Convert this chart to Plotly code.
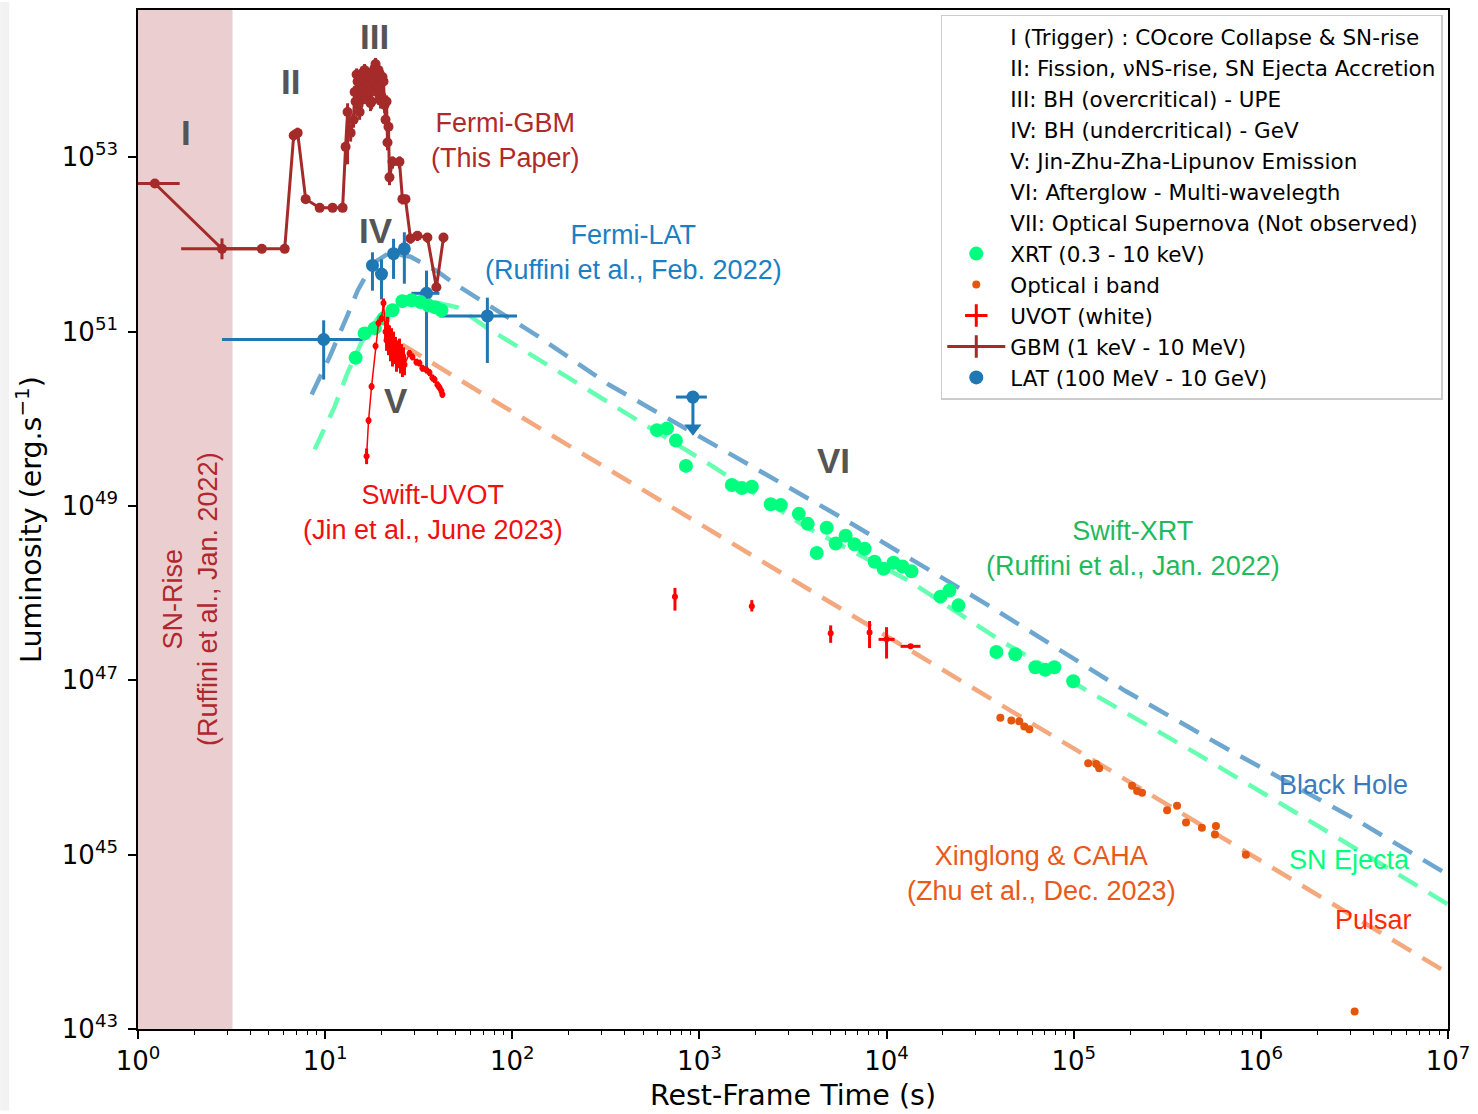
import numpy as np
import plotly.graph_objects as go

# ---------------- data (time in s, luminosity as log10 erg/s) ----------------
SN_RISE_END = 3.2

GBM_T = [1.23, 2.81, 4.59, 6.08, 6.79, 7.13, 7.87, 9.35, 10.96, 12.40, 12.86, 13.18, 13.68,
         14.19, 14.37, 14.55, 14.73, 14.91, 15.10, 15.28, 15.47, 15.66, 15.85, 16.04, 16.24, 16.44,
         16.65, 16.86, 17.06, 17.27, 17.48, 17.70, 17.92, 18.14, 18.36, 18.59, 18.82, 19.05, 19.28,
         19.53, 19.77, 20.01, 20.26, 20.51, 20.77, 21.03, 21.29, 21.54, 21.80, 22.07,
         22.91, 24.96, 25.88, 26.87, 28.58, 31.13, 35.2, 39.3, 42.9]
GBM_LOGL = [52.70, 51.95, 51.95, 51.95, 53.25, 53.28, 52.52, 52.42, 52.42, 52.42, 53.12, 53.52, 53.28,
            53.43, 53.75, 53.64, 53.95, 53.87, 53.60, 53.52, 53.90, 53.96, 53.70, 53.70, 54.00, 53.98,
            53.70, 53.75, 53.95, 53.92, 53.62, 53.64, 53.98, 53.87, 54.02, 54.07, 53.75, 53.81, 54.00,
            53.96, 53.65, 53.70, 53.92, 53.87, 53.60, 53.43, 53.64, 53.17, 53.35, 52.77,
            52.95, 52.95, 52.52, 52.52, 52.07, 52.10, 52.08, 51.51, 52.08]
GBM_ERR_UP = ([0.04, 0.12, 0.04, 0.04, 0.06, 0.06, 0.04, 0.04, 0.04, 0.04, 0.05, 0.10, 0.08]
              + [0.07] * 37
              + [0.06, 0.06, 0.05, 0.05, 0.05, 0.05, 0.05, 0.05, 0.05])
GBM_ERR_DN = ([0.04, 0.12, 0.04, 0.04, 0.06, 0.06, 0.04, 0.04, 0.04, 0.04, 0.20, 0.60, 0.10]
              + [0.09] * 37
              + [0.08, 0.08, 0.06, 0.06, 0.06, 0.06, 0.06, 0.06, 0.06])
GBM_T_LO = [0.75, 1.70] + GBM_T[2:]
GBM_T_HI = [1.67, 4.60] + GBM_T[2:]

LAT_T = [9.82, 17.9, 20.0, 23.2, 26.5, 34.8, 73.6]
LAT_LOGL = [50.91, 51.76, 51.66, 51.895, 51.95, 51.44, 51.18]
LAT_T_LO = [2.81, 17.9, 20.0, 23.2, 26.5, 28.9, 40.8]
LAT_T_HI = [15.85, 17.9, 20.0, 23.2, 26.5, 40.8, 106.0]
LAT_ERR_UP = [0.22, 0.15, 0.17, 0.17, 0.19, 0.26, 0.21]
LAT_ERR_DN = [0.46, 0.29, 0.29, 0.29, 0.40, 0.88, 0.54]

LAT_UL_T = [923]
LAT_UL_LOGL = [50.25]
LAT_UL_T_LO = [749]
LAT_UL_T_HI = [1096]
LAT_UL_ARROW = [0.43]

XRT_T = [14.55, 16.25, 18.4, 20.51, 22.91, 25.88, 28.93, 32.3, 35.7, 38.8, 41.8,
         593, 671, 749, 847, 1490, 1686, 1905, 2404, 2722, 3397, 3791, 4786, 4236, 5346, 6043,
         6745, 7638, 8630, 9638, 10890, 12170, 13590, 19410, 21680, 24220, 38620, 48720, 62370,
         70530, 78780, 99400]
XRT_LOGL = [50.70, 50.98, 51.04, 51.15, 51.245, 51.35, 51.36, 51.34, 51.30, 51.28, 51.245,
            49.87, 49.89, 49.75, 49.46, 49.24, 49.205, 49.22, 49.02, 49.01, 48.91, 48.795, 48.75,
            48.46, 48.57, 48.66, 48.56, 48.51, 48.36, 48.28, 48.35, 48.305, 48.25, 47.96, 48.03,
            47.86, 47.325, 47.30, 47.15, 47.12, 47.15, 46.99]

OPT_T = [40550, 46420, 51170, 54450, 57940, 119500, 131800, 136800, 205000, 218200, 231800,
         315500, 356600, 398100, 484200, 568400, 575400, 831800, 3170000]
OPT_LOGL = [46.57, 46.54, 46.53, 46.47, 46.44, 46.05, 46.04, 45.99, 45.79, 45.73, 45.71,
            45.51, 45.56, 45.37, 45.31, 45.23, 45.33, 45.00, 43.20]

UVOT_T = [16.65, 17.06, 17.70, 18.59, 19.28, 20.01, 20.51,
          21.03, 21.29, 21.54, 21.80, 22.07, 22.34, 22.62, 22.91, 23.19, 23.48, 23.77, 24.06,
          24.35, 24.65, 24.96, 25.26, 25.57, 25.88, 26.22, 26.54,
          28.24, 29.28, 30.76, 31.9, 33.1, 34.8, 36.1, 37.4, 38.4, 39.8, 40.8, 41.8, 42.3]
UVOT_LOGL = [49.57, 49.98, 50.37, 50.835, 51.10, 51.15, 51.33,
             51.00, 50.90, 51.05, 50.85, 50.95, 50.78, 50.92, 50.72, 50.88, 50.75, 50.82, 50.66,
             50.78, 50.70, 50.80, 50.64, 50.74, 50.60, 50.70, 50.62,
             50.75, 50.71, 50.65, 50.64, 50.58, 50.56, 50.53, 50.47, 50.45, 50.39, 50.36, 50.32, 50.28]
UVOT_ERR = ([0.09, 0.04, 0.04, 0.04, 0.04, 0.04, 0.05]
            + [0.12] * 20
            + [0.04] * 13)

UVL_T = [740, 1905, 5027, 8111, 10000, 13430]
UVL_LOGL = [47.96, 47.85, 47.54, 47.55, 47.47, 47.39]
UVL_ERR_UP = [0.10, 0.07, 0.09, 0.13, 0.14, 0.02]
UVL_ERR_DN = [0.16, 0.06, 0.11, 0.18, 0.22, 0.02]
UVL_T_LO = [740, 1905, 5027, 8111, 9060, 11880]
UVL_T_HI = [740, 1905, 5027, 8111, 11040, 15180]

BH_T = [8.47, 10.57, 13.02, 14.91, 17.92, 22.07, 28.58, 39.8, 49.1, 72.6, 134.3, 329, 1125,
        5546, 34990, 188200, 627000, 3170000, 10000000]
BH_LOGL = [50.28, 50.71, 51.165, 51.47, 51.78, 51.905, 51.86, 51.69, 51.55, 51.325, 50.96, 50.39,
           49.73, 48.886, 47.86, 46.88, 46.24, 45.41, 44.77]

SN_T = [8.79, 11.24, 13.18, 15.66, 19.05, 23.48, 30.0, 40.8, 50.9, 73.6, 110.4, 359, 1166, 3700,
        13100, 41030, 136800, 461400, 1518000, 4935000, 10000000]
SN_LOGL = [49.65, 50.14, 50.53, 50.88, 51.15, 51.29, 51.35, 51.325, 51.28, 51.04, 50.81, 50.13,
           49.46, 48.76, 48.145, 47.45, 46.81, 46.15, 45.49, 44.83, 44.43]

PSR_T = [25.88, 85.3, 994, 39550, 461400, 10000000]
PSR_LOGL = [50.85, 50.17, 48.80, 46.74, 45.365, 43.64]

X_TICKS = [1, 10, 100, 1e3, 1e4, 1e5, 1e6, 1e7]
X_TICKTEXT = ["10<sup>0</sup>", "10<sup>1</sup>", "10<sup>2</sup>", "10<sup>3</sup>",
              "10<sup>4</sup>", "10<sup>5</sup>", "10<sup>6</sup>", "10<sup>7</sup>"]
Y_TICKS = [1e43, 1e45, 1e47, 1e49, 1e51, 1e53]
Y_TICKTEXT = ["10<sup>43</sup>", "10<sup>45</sup>", "10<sup>47</sup>", "10<sup>49</sup>",
              "10<sup>51</sup>", "10<sup>53</sup>"]

LEGEND_TEXT_ONLY = [
    "I (Trigger) : COcore Collapse & SN-rise",
    "II: Fission, νNS-rise, SN Ejecta Accretion",
    "III: BH (overcritical) - UPE",
    "IV: BH (undercritical) - GeV",
    "V: Jin-Zhu-Zha-Lipunov Emission",
    "VI: Afterglow - Multi-wavelegth",
    "VII: Optical Supernova (Not observed)",
]

# ---------------- helpers ----------------
W, H = 1478, 1114
ML, MR, MT, MB = 138, 28, 8, 82
PW, PH = W - ML - MR, H - MT - MB


def L(v):
    return 10 ** np.asarray(v, dtype=float)


def dex_err(logl, up, dn):
    y = L(logl)
    return y * (10 ** np.asarray(up) - 1), y * (1 - 10 ** (-np.asarray(dn)))


def px(x, y):
    return (x - ML) / PW, (H - MB - y) / PH


C_GBM = "#a52a2a"
C_LAT = "#1f77b4"
C_XRT = "#00ff7f"
C_OPT = "#e6550d"
C_UV = "#ff0000"

fig = go.Figure()

fig.add_shape(type="rect", xref="x", yref="paper", x0=1, x1=SN_RISE_END, y0=0, y1=1,
              fillcolor="#ebcfd0", line_width=0, layer="below")
x0s, _ = px(0, 0)
x1s, _ = px(9, 0)
fig.add_shape(type="rect", xref="paper", yref="paper", x0=x0s, x1=x1s, y0=-MB / PH, y1=1 + MT / PH,
              fillcolor="#f2f2f2", line_width=0, layer="below")

dash = "22px,13px"
fig.add_trace(go.Scatter(x=BH_T, y=L(BH_LOGL), mode="lines", showlegend=False, hoverinfo="skip",
                         line=dict(color="rgba(31,119,180,0.65)", width=4.5, dash=dash)))
fig.add_trace(go.Scatter(x=SN_T, y=L(SN_LOGL), mode="lines", showlegend=False, hoverinfo="skip",
                         line=dict(color="rgba(0,255,127,0.6)", width=4.5, dash=dash)))
fig.add_trace(go.Scatter(x=PSR_T, y=L(PSR_LOGL), mode="lines", showlegend=False, hoverinfo="skip",
                         line=dict(color="rgba(235,110,40,0.6)", width=4.5, dash=dash)))

# GBM
gu, gd = dex_err(GBM_LOGL, GBM_ERR_UP, GBM_ERR_DN)
fig.add_trace(go.Scatter(
    x=GBM_T, y=L(GBM_LOGL), mode="lines+markers", showlegend=False,
    line=dict(color=C_GBM, width=3), marker=dict(color=C_GBM, size=10),
    error_y=dict(type="data", symmetric=False, array=gu, arrayminus=gd, color=C_GBM, thickness=3, width=0),
    error_x=dict(type="data", symmetric=False,
                 array=np.array(GBM_T_HI) - np.array(GBM_T),
                 arrayminus=np.array(GBM_T) - np.array(GBM_T_LO), color=C_GBM, thickness=3, width=0)))

# LAT
lu, ld = dex_err(LAT_LOGL, LAT_ERR_UP, LAT_ERR_DN)
fig.add_trace(go.Scatter(
    x=LAT_T, y=L(LAT_LOGL), mode="markers", showlegend=False,
    marker=dict(color=C_LAT, size=13),
    error_y=dict(type="data", symmetric=False, array=lu, arrayminus=ld, color=C_LAT, thickness=3, width=0),
    error_x=dict(type="data", symmetric=False,
                 array=np.array(LAT_T_HI) - np.array(LAT_T),
                 arrayminus=np.array(LAT_T) - np.array(LAT_T_LO), color=C_LAT, thickness=3, width=0)))
uu, ud = dex_err(LAT_UL_LOGL, [0.0], LAT_UL_ARROW)
fig.add_trace(go.Scatter(
    x=LAT_UL_T, y=L(LAT_UL_LOGL), mode="markers", showlegend=False,
    marker=dict(color=C_LAT, size=13),
    error_y=dict(type="data", symmetric=False, array=uu, arrayminus=ud * 0.93, color=C_LAT, thickness=3, width=0),
    error_x=dict(type="data", symmetric=False,
                 array=np.array(LAT_UL_T_HI) - np.array(LAT_UL_T),
                 arrayminus=np.array(LAT_UL_T) - np.array(LAT_UL_T_LO), color=C_LAT, thickness=3, width=0)))
fig.add_trace(go.Scatter(
    x=LAT_UL_T, y=L(np.array(LAT_UL_LOGL) - np.array(LAT_UL_ARROW)) * 1.18, mode="markers",
    showlegend=False, marker=dict(color=C_LAT, size=15, symbol="triangle-down")))

# XRT
fig.add_trace(go.Scatter(x=XRT_T, y=L(XRT_LOGL), mode="markers", showlegend=False,
                         marker=dict(color=C_XRT, size=14)))

# UVOT
vu, vd = dex_err(UVOT_LOGL, UVOT_ERR, UVOT_ERR)
fig.add_trace(go.Scatter(
    x=UVOT_T, y=L(UVOT_LOGL), mode="lines+markers", showlegend=False,
    line=dict(color=C_UV, width=1.5), marker=dict(color=C_UV, size=6),
    error_y=dict(type="data", symmetric=False, array=vu, arrayminus=vd, color=C_UV, thickness=3, width=0)))
wu, wd = dex_err(UVL_LOGL, UVL_ERR_UP, UVL_ERR_DN)
fig.add_trace(go.Scatter(
    x=UVL_T, y=L(UVL_LOGL), mode="markers", showlegend=False,
    marker=dict(color=C_UV, size=6),
    error_y=dict(type="data", symmetric=False, array=wu, arrayminus=wd, color=C_UV, thickness=3, width=0),
    error_x=dict(type="data", symmetric=False,
                 array=np.array(UVL_T_HI) - np.array(UVL_T),
                 arrayminus=np.array(UVL_T) - np.array(UVL_T_LO), color=C_UV, thickness=3, width=0)))

# Optical
fig.add_trace(go.Scatter(x=OPT_T, y=L(OPT_LOGL), mode="markers", showlegend=False,
                         marker=dict(color=C_OPT, size=8)))

# ---------------- legend entries ----------------
for name in LEGEND_TEXT_ONLY:
    fig.add_trace(go.Scatter(x=[None], y=[None], mode="markers", name=name,
                             marker=dict(size=1, color="rgba(0,0,0,0)")))
fig.add_trace(go.Scatter(x=[None], y=[None], mode="markers", name="XRT (0.3 - 10 keV)",
                         marker=dict(size=14, color=C_XRT)))
fig.add_trace(go.Scatter(x=[None], y=[None], mode="markers", name="Optical i band",
                         marker=dict(size=8, color=C_OPT)))
fig.add_trace(go.Scatter(x=[None], y=[None], mode="markers", name="UVOT (white)",
                         marker=dict(size=22, symbol="cross-thin", line=dict(color=C_UV, width=3))))
fig.add_trace(go.Scatter(x=[None], y=[None], mode="lines+markers", name="GBM (1 keV - 10 MeV)",
                         line=dict(color=C_GBM, width=3),
                         marker=dict(size=20, symbol="cross-thin", line=dict(color=C_GBM, width=3))))
fig.add_trace(go.Scatter(x=[None], y=[None], mode="markers", name="LAT (100 MeV - 10 GeV)",
                         marker=dict(size=14, color=C_LAT)))

# ---------------- annotations ----------------
ann = []


def add_text(text, x, y, color, size, family="Liberation Sans", bold=False, angle=0):
    xp, yp = px(x, y)
    ann.append(dict(text=f"<b>{text}</b>" if bold else text, x=xp, y=yp, xref="paper", yref="paper",
                    showarrow=False, xanchor="center", yanchor="middle", align="center",
                    textangle=angle, font=dict(family=family, size=size, color=color)))


for t, x, y in [("I", 186, 131), ("II", 291, 80), ("III", 375, 35), ("IV", 376, 230),
                ("V", 396, 400), ("VI", 835, 461)]:
    add_text(t, x, y, "#555555", 35, bold=True)

add_text("Fermi-GBM<br>(This Paper)", 506, 139, "#b02a2a", 27)
add_text("Fermi-LAT<br>(Ruffini et al., Feb. 2022)", 634, 252, "#1a80c4", 27)
add_text("Swift-UVOT<br>(Jin et al., June 2023)", 433, 513, "#f01010", 27)
add_text("Swift-XRT<br>(Ruffini et al., Jan. 2022)", 1135, 549, "#1fba5c", 27)
add_text("Xinglong & CAHA<br>(Zhu et al., Dec. 2023)", 1043, 876, "#e8591a", 27)
add_text("Black Hole", 1345, 787, "#3a7abf", 27)
add_text("SN Ejecta", 1351, 862, "#00ff7f", 27)
add_text("Pulsar", 1375, 922, "#ff2a00", 27)
add_text("SN-Rise<br>(Ruffini et al., Jan. 2022)", 190, 600, "#b0282e", 27, angle=-90)

minor_vals = [m * 10 ** d for d in range(0, 7) for m in range(2, 10)]

fig.update_layout(
    width=W, height=H,
    margin=dict(l=ML, r=MR, t=MT, b=MB),
    paper_bgcolor="white", plot_bgcolor="white",
    font=dict(family="DejaVu Sans", color="black"),
    annotations=ann,
    legend=dict(x=px(942, 0)[0], y=px(0, 13)[1], xanchor="left", yanchor="top",
                bgcolor="white", bordercolor="#cccccc", borderwidth=1.5,
                font=dict(family="DejaVu Sans", size=21.5, color="black"),
                itemwidth=58, tracegroupgap=0),
    xaxis=dict(type="log", range=[0, 7], showgrid=False, zeroline=False,
               showline=True, linecolor="black", linewidth=1.5, mirror=True,
               ticks="outside", ticklen=8, tickwidth=1.5, tickcolor="black",
               tickmode="array", tickvals=X_TICKS, ticktext=X_TICKTEXT,
               tickfont=dict(family="DejaVu Sans", size=26),
               minor=dict(tickmode="array", tickvals=minor_vals, ticks="outside", ticklen=4,
                          tickwidth=1, tickcolor="black", showgrid=False),
               title=dict(text="Rest-Frame Time (s)", font=dict(family="DejaVu Sans", size=28.5),
                          standoff=10)),
    yaxis=dict(type="log", range=[43, 54.69], showgrid=False, zeroline=False,
               showline=True, linecolor="black", linewidth=1.5, mirror=True,
               ticks="outside", ticklen=8, tickwidth=1.5, tickcolor="black",
               tickmode="array", tickvals=Y_TICKS, ticktext=Y_TICKTEXT,
               tickfont=dict(family="DejaVu Sans", size=26), ticklabelstandoff=5,
               title=dict(text="Luminosity (erg.s<sup>−1</sup>)",
                          font=dict(family="DejaVu Sans", size=28.5), standoff=12)),
)

fig.write_html("out.html")
